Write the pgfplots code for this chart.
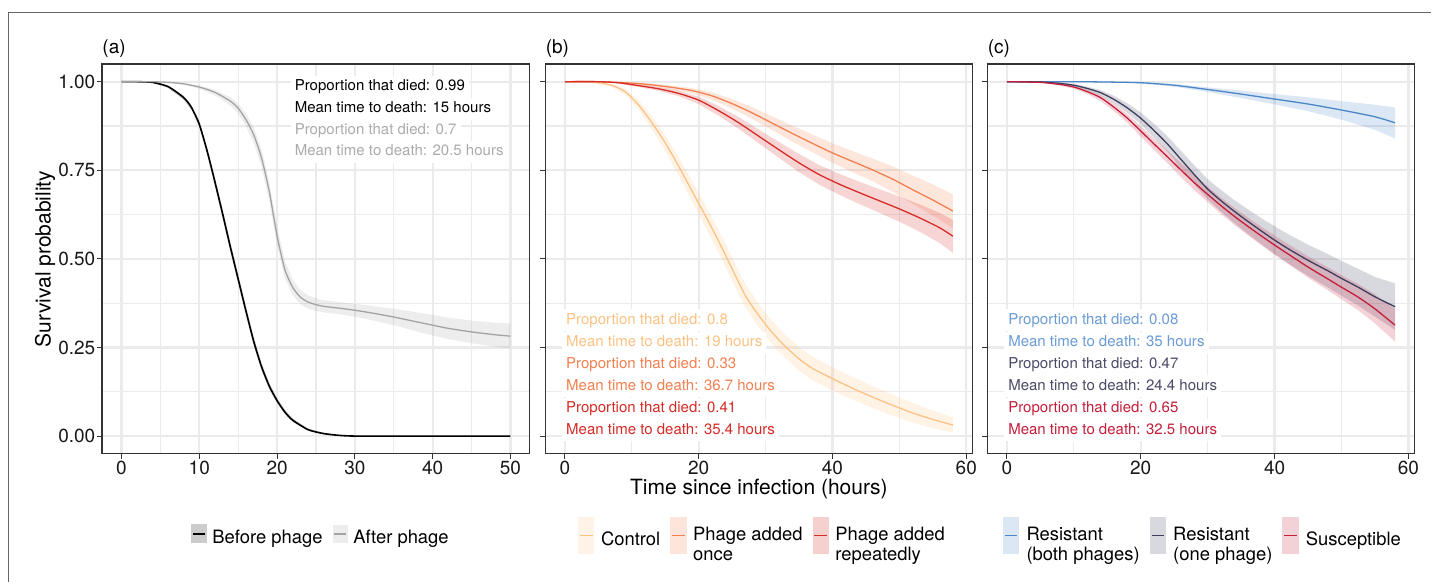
\documentclass[border=0pt]{standalone}
\usepackage{fontspec}
\setmainfont{TeX Gyre Heros}
\usepackage{pgfplots}
\pgfplotsset{compat=1.18}
\usepackage{pgfplotstable}
\usepgfplotslibrary{fillbetween}

\definecolor{bordercol}{HTML}{333333}
\definecolor{gridcol}{HTML}{EBEBEB}
\definecolor{aftercol}{HTML}{A3A3A3}
\definecolor{aftertext}{HTML}{ABABAB}
\definecolor{ctrlcol}{HTML}{FDC283}
\definecolor{oncecol}{HTML}{F3804F}
\definecolor{repcol}{HTML}{D62B26}
\definecolor{bothcol}{HTML}{4A86C8}
\definecolor{bothtext}{HTML}{6A9BD6}
\definecolor{onecol}{HTML}{3E3E5E}
\definecolor{onetext}{HTML}{4A4A66}
\definecolor{suscol}{HTML}{C41E3A}

% ---------------- data (x, estimate, lower, upper) ----------------
\pgfplotstableread{
x y lo hi
0 1.000 1.000 1.000
2 1.000 0.999 1.000
4 0.998 0.996 0.999
6 0.986 0.982 0.989
8 0.955 0.949 0.960
9 0.927 0.920 0.933
10 0.880 0.872 0.888
11 0.805 0.795 0.815
12 0.718 0.706 0.730
13 0.627 0.614 0.640
14 0.533 0.520 0.546
15 0.443 0.430 0.456
16 0.353 0.340 0.366
17 0.267 0.255 0.279
18 0.196 0.186 0.206
19 0.141 0.132 0.150
20 0.100 0.093 0.107
21 0.068 0.062 0.074
22 0.045 0.040 0.050
24 0.018 0.015 0.021
26 0.007 0.005 0.009
28 0.002 0.001 0.003
30 0.000 0.000 0.001
35 0 0 0
40 0 0 0
45 0 0 0
50 0 0 0
}\before
\pgfplotstableread{
x y lo hi
0 1.000 1.000 1.000
4 1.000 0.999 1.000
6 0.998 0.997 0.999
8 0.994 0.991 0.996
10 0.985 0.980 0.989
12 0.970 0.962 0.977
14 0.945 0.933 0.956
15 0.925 0.910 0.939
16 0.893 0.875 0.910
17 0.850 0.828 0.871
18 0.785 0.760 0.810
19 0.690 0.663 0.717
20 0.565 0.538 0.592
21 0.470 0.445 0.495
22 0.420 0.398 0.442
23 0.392 0.372 0.412
24 0.378 0.359 0.397
25 0.371 0.353 0.389
26 0.366 0.349 0.383
28 0.361 0.344 0.378
30 0.355 0.337 0.373
32 0.348 0.328 0.368
35 0.336 0.313 0.359
38 0.322 0.295 0.349
40 0.313 0.284 0.342
42 0.304 0.274 0.334
45 0.294 0.262 0.326
48 0.286 0.252 0.320
50 0.282 0.247 0.318
}\after
\pgfplotstableread{
x y lo hi
0 1.000 1.000 1.000
3 1.000 0.999 1.000
5 0.997 0.995 0.999
7 0.990 0.985 0.994
9 0.972 0.963 0.980
11 0.935 0.922 0.948
13 0.885 0.866 0.903
15 0.828 0.805 0.850
17 0.762 0.735 0.788
19 0.692 0.662 0.721
21 0.622 0.590 0.653
23 0.550 0.517 0.582
25 0.472 0.438 0.505
27 0.396 0.362 0.429
29 0.340 0.307 0.373
31 0.292 0.259 0.325
33 0.252 0.219 0.285
35 0.218 0.185 0.251
37 0.191 0.158 0.224
40 0.162 0.129 0.195
43 0.135 0.103 0.167
46 0.110 0.079 0.141
49 0.087 0.057 0.117
52 0.065 0.038 0.093
55 0.047 0.022 0.072
58 0.031 0.009 0.053
}\control
\pgfplotstableread{
x y lo hi
0 1.000 1.000 1.000
5 1.000 0.999 1.000
10 0.996 0.993 0.998
13 0.991 0.987 0.995
16 0.984 0.978 0.989
19 0.975 0.967 0.982
22 0.960 0.949 0.970
25 0.938 0.924 0.951
28 0.912 0.895 0.928
31 0.883 0.863 0.902
34 0.854 0.831 0.876
37 0.826 0.801 0.851
40 0.799 0.771 0.826
43 0.775 0.745 0.804
46 0.751 0.719 0.783
49 0.725 0.689 0.761
52 0.695 0.655 0.735
55 0.666 0.622 0.710
58 0.635 0.587 0.682
}\once
\pgfplotstableread{
x y lo hi
0 1.000 1.000 1.000
5 1.000 0.999 1.000
8 0.997 0.995 0.999
11 0.989 0.985 0.993
14 0.980 0.974 0.985
17 0.967 0.959 0.975
20 0.948 0.937 0.958
23 0.918 0.904 0.931
26 0.884 0.867 0.900
29 0.846 0.826 0.865
32 0.808 0.785 0.830
35 0.771 0.745 0.796
38 0.738 0.710 0.765
41 0.711 0.681 0.740
44 0.687 0.655 0.718
47 0.664 0.630 0.697
50 0.641 0.605 0.676
53 0.616 0.577 0.654
56 0.588 0.545 0.630
58 0.564 0.517 0.610
}\repeated
\pgfplotstableread{
x y lo hi
0 1.000 1.000 1.000
10 1.000 0.999 1.000
15 0.999 0.998 1.000
20 0.997 0.995 0.999
25 0.990 0.986 0.994
30 0.978 0.971 0.984
35 0.965 0.954 0.975
40 0.951 0.936 0.965
45 0.937 0.917 0.956
50 0.920 0.893 0.945
55 0.901 0.864 0.935
58 0.884 0.840 0.927
}\both
\pgfplotstableread{
x y lo hi
0 1.000 1.000 1.000
5 0.999 0.998 1.000
8 0.995 0.992 0.997
10 0.990 0.986 0.994
12 0.981 0.975 0.986
14 0.969 0.961 0.976
16 0.950 0.939 0.960
18 0.926 0.912 0.939
20 0.897 0.880 0.913
22 0.862 0.842 0.881
24 0.824 0.802 0.846
26 0.781 0.756 0.805
28 0.738 0.711 0.764
30 0.697 0.668 0.725
32 0.664 0.633 0.694
34 0.634 0.601 0.666
36 0.606 0.571 0.640
38 0.579 0.542 0.615
40 0.553 0.514 0.592
42 0.529 0.488 0.570
45 0.496 0.452 0.540
48 0.466 0.419 0.513
50 0.445 0.396 0.494
52.5 0.420 0.368 0.472
55 0.393 0.337 0.449
58 0.365 0.300 0.431
}\onephage
\pgfplotstableread{
x y lo hi
0 1.000 1.000 1.000
5 0.998 0.997 0.999
8 0.992 0.989 0.995
10 0.985 0.980 0.989
12 0.972 0.965 0.978
14 0.955 0.946 0.963
16 0.928 0.917 0.938
18 0.897 0.884 0.909
20 0.861 0.846 0.875
22 0.824 0.807 0.840
24 0.788 0.770 0.806
26 0.751 0.731 0.770
28 0.715 0.694 0.736
30 0.682 0.660 0.704
32 0.650 0.627 0.673
34 0.620 0.596 0.644
36 0.592 0.567 0.617
38 0.565 0.539 0.591
40 0.539 0.512 0.566
42 0.514 0.486 0.542
45 0.477 0.447 0.507
48 0.443 0.411 0.476
50 0.420 0.386 0.454
52.5 0.392 0.355 0.429
55 0.359 0.318 0.400
58 0.313 0.267 0.359
}\suscept

\tikzset{ann/.style={anchor=west, fill=white, inner xsep=2pt, inner ysep=1.9pt,
  text height=5.6pt, text depth=1.6pt, font=\fontsize{7.5}{9}\selectfont, xshift=-1.5pt}}

\newcommand{\keyS}[2]{\fill[#1] (0pt,-2pt) rectangle (7pt,6.5pt);
  \draw[#2] (0.6pt,2.25pt) -- (6.4pt,2.25pt);}
\newcommand{\keyT}[2]{\fill[#1] (0pt,-6.75pt) rectangle (7.5pt,11.25pt);
  \draw[#2] (0.6pt,2.25pt) -- (6.9pt,2.25pt);}
\newcommand{\two}[2]{\begin{tabular}{@{}l@{}}#1\\#2\end{tabular}}

\pgfplotsset{
 panel/.style={
  scale only axis, height=195pt,
  axis line style={draw=bordercol, line width=0.6pt},
  grid=both,
  major grid style={draw=gridcol, line width=1.1pt},
  minor grid style={draw=gridcol, line width=0.55pt},
  tick align=outside, tick pos=left,
  major tick length=2.6pt, minor tick length=0pt,
  tick style={draw=bordercol, line width=0.55pt},
  ymin=-0.05, ymax=1.05,
  ytick={0,0.25,0.5,0.75,1},
  minor ytick={0.125,0.375,0.625,0.875},
  tick label style={font=\fontsize{9.5}{11}\selectfont, text=black!90},
  xticklabel style={inner ysep=1pt},
  yticklabel style={inner xsep=0.6pt},
  /pgf/number format/assume math mode=true,
  clip mode=individual,
  legend cell align=left,
  legend style={anchor=center, draw=none, fill=none,
    legend columns=-1, font=\fontsize{9.2}{10}\selectfont, inner sep=0pt,
    /tikz/every even column/.append style={column sep=3pt}},
 },
 band/.style={draw=none, fill=#1, fill opacity=0.2, forget plot},
 hid/.style={draw=none, forget plot},
}

\begin{document}
\begin{tikzpicture}
\path (0,0) rectangle (716pt,291pt);
\draw[color=black!60, line width=0.6pt] (4.15pt,0pt) -- (4.15pt,284.85pt) -- (716pt,284.85pt);

% ---------------- panel (a) ----------------
\begin{axis}[panel, at={(51.05pt,64pt)}, anchor=south west, width=214pt,
  xmin=-2.5, xmax=52.5, xtick={0,10,...,50}, minor xtick={5,15,...,45},
  yticklabels={0.00,0.25,0.50,0.75,1.00},
  ylabel={Survival probability},
  ylabel style={at={(axis description cs:-0.1334,0.5)}, anchor=center, font=\fontsize{10.5}{12}\selectfont},
  legend style={at={(0.514,-0.2145)}, /tikz/every odd column/.append style={column sep=0.8pt}},
]
\addplot[hid, name path=bl] table[x=x,y=lo]{\before};
\addplot[hid, name path=bh] table[x=x,y=hi]{\before};
\addplot[band=black] fill between[of=bl and bh];
\addplot[hid, name path=al] table[x=x,y=lo]{\after};
\addplot[hid, name path=ah] table[x=x,y=hi]{\after};
\addplot[band=aftercol] fill between[of=al and ah];
\addplot[black, line width=0.8pt, smooth, tension=0.4,
  legend image code/.code={\keyS{black!20}{black, line width=0.8pt}}] table[x=x,y=y]{\before};
\addlegendentry{Before phage}
\addplot[aftercol, line width=0.65pt, smooth, tension=0.4,
  legend image code/.code={\keyS{aftercol!20}{aftercol, line width=0.8pt}}] table[x=x,y=y]{\after};
\addlegendentry{After phage}
\node[ann, text=black] at (axis cs:22.1,0.985) {Proportion that died: 0.99};
\node[ann, text=black] at (axis cs:22.1,0.924) {Mean time to death: 15 hours};
\node[ann, text=aftertext] at (axis cs:22.1,0.863) {Proportion that died: 0.7};
\node[ann, text=aftertext] at (axis cs:22.1,0.802) {Mean time to death: 20.5 hours};
\node[anchor=base west, inner sep=0pt, font=\fontsize{9.5}{11}\selectfont, yshift=5pt] at (rel axis cs:0,1) {(a)};
\end{axis}

% ---------------- panel (b) ----------------
\begin{axis}[panel, at={(272.8pt,64pt)}, anchor=south west, width=213.55pt,
  xmin=-2.9, xmax=60.9, xtick={0,20,40,60}, minor xtick={10,30,50},
  yticklabels={},
  xlabel={Time since infection (hours)},
  xlabel style={at={(axis description cs:0.5,-0.105)}, anchor=base, font=\fontsize{10.5}{12}\selectfont},
  legend style={at={(0.511,-0.2145)}, /tikz/every odd column/.append style={column sep=1.3pt}},
]
\addplot[hid, name path=cl] table[x=x,y=lo]{\control};
\addplot[hid, name path=ch] table[x=x,y=hi]{\control};
\addplot[band=ctrlcol] fill between[of=cl and ch];
\addplot[hid, name path=ol] table[x=x,y=lo]{\once};
\addplot[hid, name path=oh] table[x=x,y=hi]{\once};
\addplot[band=oncecol] fill between[of=ol and oh];
\addplot[hid, name path=rl] table[x=x,y=lo]{\repeated};
\addplot[hid, name path=rh] table[x=x,y=hi]{\repeated};
\addplot[band=repcol] fill between[of=rl and rh];
\addplot[ctrlcol, line width=0.65pt, smooth, tension=0.4,
  legend image code/.code={\keyT{ctrlcol!20}{ctrlcol, line width=0.8pt}}] table[x=x,y=y]{\control};
\addlegendentry{Control}
\addplot[oncecol, line width=0.65pt, smooth, tension=0.4,
  legend image code/.code={\keyT{oncecol!20}{oncecol, line width=0.8pt}}] table[x=x,y=y]{\once};
\addlegendentry{\two{Phage added}{once}}
\addplot[repcol, line width=0.65pt, smooth, tension=0.4,
  legend image code/.code={\keyT{repcol!22}{repcol, line width=0.8pt}}] table[x=x,y=y]{\repeated};
\addlegendentry{\two{Phage added}{repeatedly}}
\node[ann, text=ctrlcol] at (axis cs:0,0.327) {Proportion that died: 0.8};
\node[ann, text=ctrlcol] at (axis cs:0,0.264) {Mean time to death: 19 hours};
\node[ann, text=oncecol] at (axis cs:0,0.202) {Proportion that died: 0.33};
\node[ann, text=oncecol] at (axis cs:0,0.140) {Mean time to death: 36.7 hours};
\node[ann, text=repcol] at (axis cs:0,0.077) {Proportion that died: 0.41};
\node[ann, text=repcol] at (axis cs:0,0.016) {Mean time to death: 35.4 hours};
\node[anchor=base west, inner sep=0pt, font=\fontsize{9.5}{11}\selectfont, yshift=5pt] at (rel axis cs:0,1) {(b)};
\end{axis}

% ---------------- panel (c) ----------------
\begin{axis}[panel, at={(493.95pt,64pt)}, anchor=south west, width=213.55pt,
  xmin=-2.9, xmax=60.9, xtick={0,20,40,60}, minor xtick={10,30,50},
  yticklabels={},
  legend style={at={(0.507,-0.2145)}, /tikz/every odd column/.append style={column sep=1.6pt}},
]
\addplot[hid, name path=tl] table[x=x,y=lo]{\both};
\addplot[hid, name path=th] table[x=x,y=hi]{\both};
\addplot[band=bothcol] fill between[of=tl and th];
\addplot[hid, name path=nl] table[x=x,y=lo]{\onephage};
\addplot[hid, name path=nh] table[x=x,y=hi]{\onephage};
\addplot[band=onecol] fill between[of=nl and nh];
\addplot[hid, name path=sl] table[x=x,y=lo]{\suscept};
\addplot[hid, name path=sh] table[x=x,y=hi]{\suscept};
\addplot[band=suscol] fill between[of=sl and sh];
\addplot[bothcol, line width=0.65pt, smooth, tension=0.4,
  legend image code/.code={\keyT{bothcol!20}{bothcol, line width=0.8pt}}] table[x=x,y=y]{\both};
\addlegendentry{\two{Resistant}{(both phages)}}
\addplot[onecol, line width=0.65pt, smooth, tension=0.4,
  legend image code/.code={\keyT{onecol!20}{onecol, line width=0.8pt}}] table[x=x,y=y]{\onephage};
\addlegendentry{\two{Resistant}{(one phage)}}
\addplot[suscol, line width=0.65pt, smooth, tension=0.4,
  legend image code/.code={\keyT{suscol!20}{suscol, line width=0.8pt}}] table[x=x,y=y]{\suscept};
\addlegendentry{Susceptible}
\node[ann, text=bothtext] at (axis cs:0,0.327) {Proportion that died: 0.08};
\node[ann, text=bothtext] at (axis cs:0,0.264) {Mean time to death: 35 hours};
\node[ann, text=onetext] at (axis cs:0,0.202) {Proportion that died: 0.47};
\node[ann, text=onetext] at (axis cs:0,0.140) {Mean time to death: 24.4 hours};
\node[ann, text=suscol] at (axis cs:0,0.077) {Proportion that died: 0.65};
\node[ann, text=suscol] at (axis cs:0,0.016) {Mean time to death: 32.5 hours};
\node[anchor=base west, inner sep=0pt, font=\fontsize{9.5}{11}\selectfont, yshift=5pt] at (rel axis cs:0,1) {(c)};
\end{axis}
\end{tikzpicture}
\end{document}
